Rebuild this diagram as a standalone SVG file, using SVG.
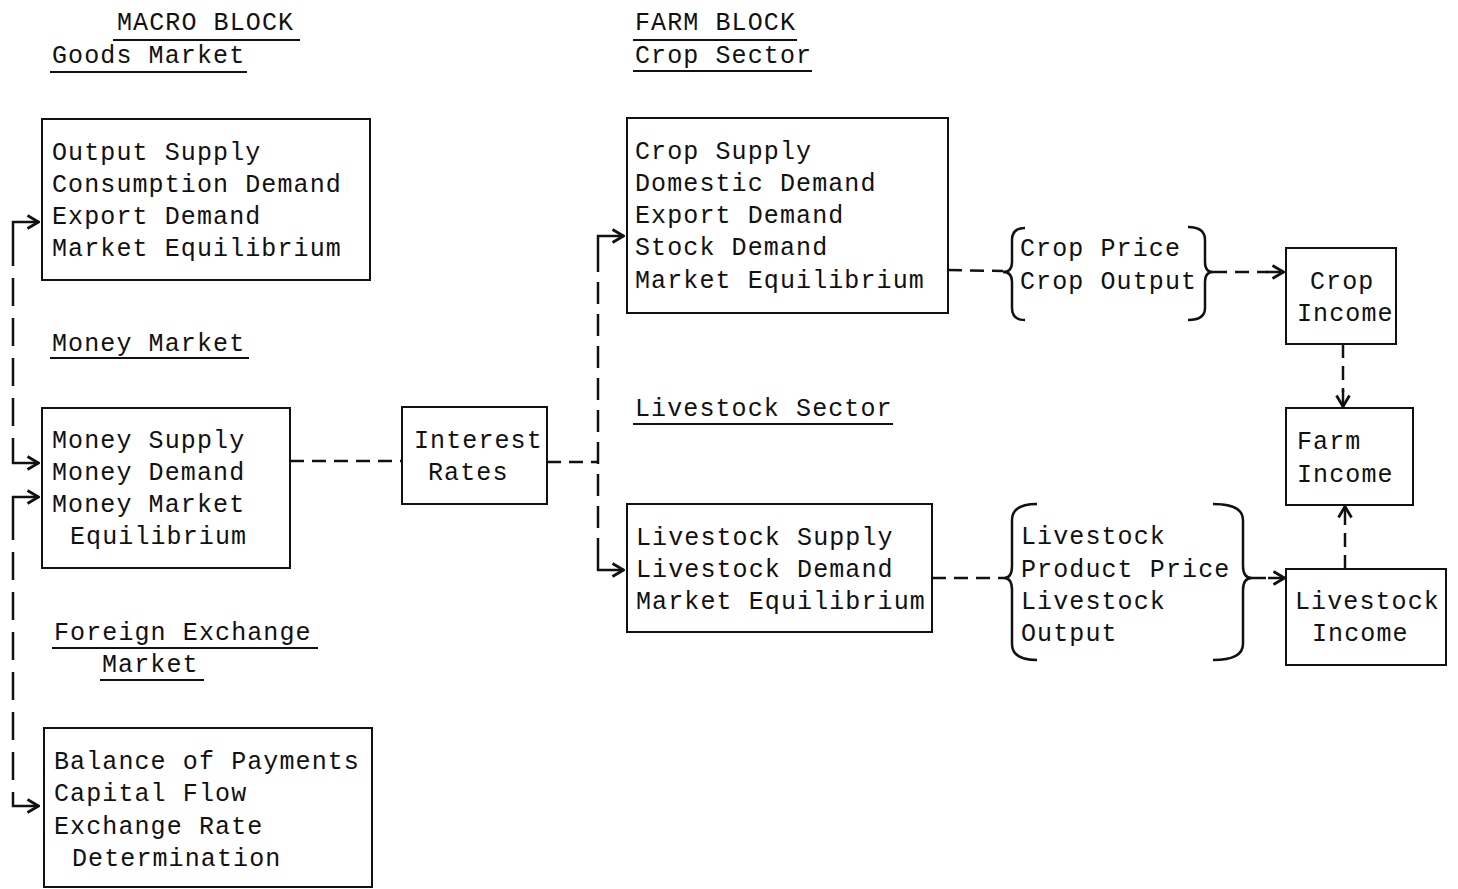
<svg xmlns="http://www.w3.org/2000/svg" width="1458" height="889" viewBox="0 0 1458 889">
<style>
text{font-family:"Liberation Mono","Courier New",monospace;font-size:25px;letter-spacing:1.1px;fill:#111}
.box{fill:none;stroke:#111;stroke-width:2}
.ul{stroke:#111;stroke-width:2}
.d{fill:none;stroke:#111;stroke-width:2.5;stroke-dasharray:14 8}
.dv{fill:none;stroke:#111;stroke-width:2.5;stroke-dasharray:28 12}
.s{fill:none;stroke:#111;stroke-width:2.5}
.br{fill:none;stroke:#111;stroke-width:2.5}
</style>
<defs>
<marker id="ah" viewBox="0 0 14 16" refX="13" refY="8" markerWidth="14" markerHeight="16" markerUnits="userSpaceOnUse" orient="auto">
<path d="M1.5,1.5 L12.5,8 L1.5,14.5" fill="none" stroke="#111" stroke-width="2.8"/>
</marker>
</defs>
<rect width="1458" height="889" fill="#fff"/>
<g id="headings">
<text x="117" y="30">MACRO BLOCK</text>
<line class="ul" x1="113" y1="40" x2="300" y2="40"/>
<text x="52" y="63">Goods Market</text>
<line class="ul" x1="50" y1="72" x2="247" y2="72"/>
<text x="635" y="30">FARM BLOCK</text>
<line class="ul" x1="633" y1="40" x2="797" y2="40"/>
<text x="635" y="63">Crop Sector</text>
<line class="ul" x1="633" y1="71" x2="812" y2="71"/>
<text x="52" y="351">Money Market</text>
<line class="ul" x1="50" y1="358" x2="249" y2="358"/>
<text x="54" y="640">Foreign Exchange</text>
<line class="ul" x1="52" y1="648" x2="318" y2="648"/>
<text x="102" y="672">Market</text>
<line class="ul" x1="100" y1="680" x2="204" y2="680"/>
<text x="635" y="416">Livestock Sector</text>
<line class="ul" x1="633" y1="424" x2="893" y2="424"/>
</g>
<g id="goods">
<rect class="box" x="42" y="119" width="328" height="161"/>
<text x="52" y="160">Output Supply</text>
<text x="52" y="192">Consumption Demand</text>
<text x="52" y="224">Export Demand</text>
<text x="52" y="256">Market Equilibrium</text>
</g>
<g id="money">
<rect class="box" x="42" y="408" width="248" height="160"/>
<text x="52" y="448">Money Supply</text>
<text x="52" y="480">Money Demand</text>
<text x="52" y="512">Money Market</text>
<text x="70" y="544">Equilibrium</text>
</g>
<g id="fx">
<rect class="box" x="44" y="728" width="328" height="159"/>
<text x="54" y="769">Balance of Payments</text>
<text x="54" y="801">Capital Flow</text>
<text x="54" y="834">Exchange Rate</text>
<text x="72" y="866">Determination</text>
</g>
<g id="interest">
<rect class="box" x="402" y="407" width="145" height="97"/>
<text x="414" y="448">Interest</text>
<text x="428" y="480">Rates</text>
</g>
<g id="crop">
<rect class="box" x="627" y="118" width="321" height="195"/>
<text x="635" y="159">Crop Supply</text>
<text x="635" y="191">Domestic Demand</text>
<text x="635" y="223">Export Demand</text>
<text x="635" y="255">Stock Demand</text>
<text x="635" y="288">Market Equilibrium</text>
</g>
<g id="livestock">
<rect class="box" x="627" y="504" width="305" height="128"/>
<text x="636" y="545">Livestock Supply</text>
<text x="636" y="577">Livestock Demand</text>
<text x="636" y="609">Market Equilibrium</text>
</g>
<g id="crop-vars">
<path class="br" d="M1025,228 Q1012,228 1012,240 L1012,262 Q1012,272 1003,272 Q1012,272 1012,282 L1012,308 Q1012,320 1025,320"/>
<path class="br" d="M1188,227 Q1205,227 1205,240 L1205,262 Q1205,272 1213,272 Q1205,272 1205,282 L1205,308 Q1205,320 1188,320"/>
<text x="1020" y="256">Crop Price</text>
<text x="1020" y="289">Crop Output</text>
</g>
<g id="livestock-vars">
<path class="br" d="M1037,504 Q1012,504 1012,520 L1012,566 Q1012,578 1004,578 Q1012,578 1012,590 L1012,644 Q1012,660 1037,660"/>
<path class="br" d="M1213,504 Q1243,504 1243,520 L1243,566 Q1243,578 1252,578 Q1243,578 1243,590 L1243,644 Q1243,660 1213,660"/>
<text x="1021" y="544">Livestock</text>
<text x="1021" y="577">Product Price</text>
<text x="1021" y="609">Livestock</text>
<text x="1021" y="641">Output</text>
</g>
<g id="crop-income">
<rect class="box" x="1286" y="248" width="110" height="96"/>
<text x="1310" y="289">Crop</text>
<text x="1297" y="321">Income</text>
</g>
<g id="farm-income">
<rect class="box" x="1286" y="408" width="127" height="97"/>
<text x="1297" y="449">Farm</text>
<text x="1297" y="482">Income</text>
</g>
<g id="livestock-income">
<rect class="box" x="1286" y="569" width="160" height="96"/>
<text x="1295" y="609">Livestock</text>
<text x="1312" y="641">Income</text>
</g>
<g id="connectors">
<path class="s" d="M13,238 L13,222 L39,222" marker-end="url(#ah)"/>
<line class="dv" x1="13" y1="238" x2="13" y2="448"/>
<path class="s" d="M13,448 L13,463 L39,463" marker-end="url(#ah)"/>
<path class="s" d="M13,512 L13,497 L39,497" marker-end="url(#ah)"/>
<line class="dv" x1="13" y1="512" x2="13" y2="792"/>
<path class="s" d="M13,792 L13,806 L39,806" marker-end="url(#ah)"/>
<line class="d" x1="290" y1="461" x2="402" y2="461"/>
<line class="d" x1="547" y1="462" x2="598" y2="462"/>
<path class="s" d="M598,250 L598,236 L624,236" marker-end="url(#ah)"/>
<line class="dv" x1="598" y1="250" x2="598" y2="555" style="stroke-dasharray:22 10"/>
<path class="s" d="M598,555 L598,570 L624,570" marker-end="url(#ah)"/>
<line class="d" x1="948" y1="270" x2="1003" y2="271"/>
<line class="d" x1="1213" y1="272" x2="1268" y2="272"/>
<path class="s" d="M1266,272 L1284,272" marker-end="url(#ah)"/>
<line class="d" x1="932" y1="578" x2="1004" y2="578"/>
<line class="d" x1="1252" y1="578" x2="1270" y2="578"/>
<path class="s" d="M1268,578 L1285,578" marker-end="url(#ah)"/>
<line class="d" x1="1343" y1="344" x2="1343" y2="392"/>
<path class="s" d="M1343,390 L1343,407" marker-end="url(#ah)"/>
<line class="d" x1="1345" y1="569" x2="1345" y2="524"/>
<path class="s" d="M1345,524 L1345,506" marker-end="url(#ah)"/>
</g>
</svg>
